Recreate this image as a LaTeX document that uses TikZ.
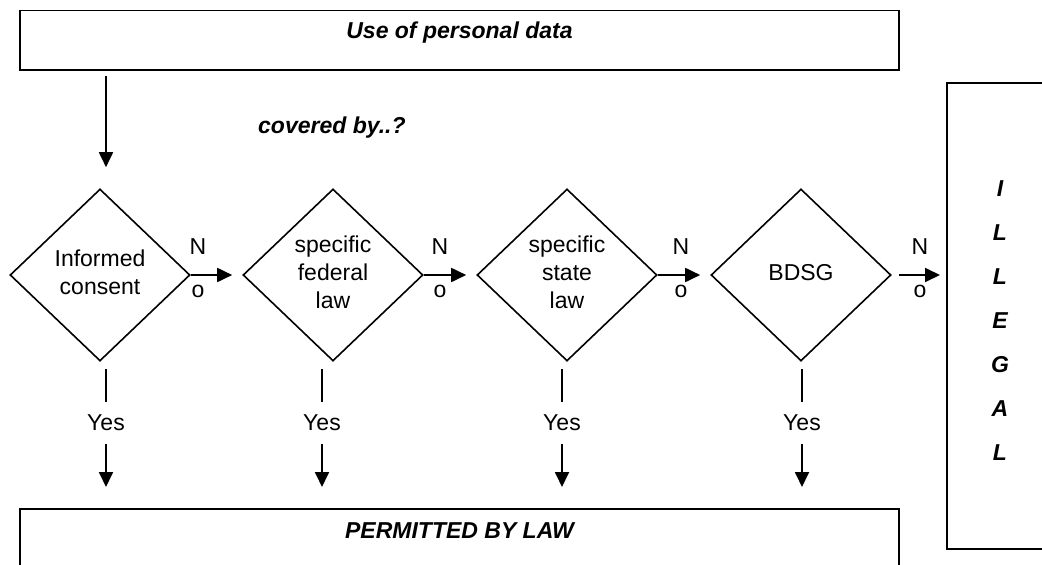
\documentclass[tikz,border=0pt]{standalone}
\usepackage{fontspec}
\setmainfont{Liberation Sans}
\usetikzlibrary{shapes.geometric,arrows.meta}

\begin{document}
\begin{tikzpicture}[x=1pt,y=-1pt,
  every node/.style={font=\fontsize{23}{28}\selectfont},
  line/.style={line width=1.8pt},
  arr/.style={line width=1.8pt,-{Triangle[length=15pt,width=14pt]}},
  frame/.style={draw,line width=1.8pt,inner sep=0pt},
  decision/.style={draw,shape=diamond,line width=1.6pt,minimum width=180pt,
    minimum height=172pt,inner sep=0pt},
  bi/.style={font=\fontsize{23}{28}\selectfont\bfseries\itshape},
  nolbl/.style={align=center,inner sep=0pt,font=\fontsize{23}{43}\selectfont},
  yeslbl/.style={inner sep=0pt,minimum height=42pt},
]
\useasboundingbox (0,0) rectangle (1042,565);

% header and footer boxes
\node[frame,bi,anchor=north,minimum width=879pt,text height=28.5pt,text depth=31pt]
  (use) at (459.5,9.5) {Use of personal data};
\node[frame,bi,anchor=north,minimum width=879pt,text height=30pt,text depth=70pt]
  (perm) at (459.5,508) {PERMITTED BY LAW};

\node[bi,anchor=west,inner sep=0pt] (cov) at (258,128) {covered by..?};

% decision chain
\node[decision] (d1) at (100,275) {\begin{tabular}{@{}c@{}}Informed\\consent\end{tabular}};
\node[decision] (d2) at (333,275) {\begin{tabular}{@{}c@{}}specific\\federal\\law\end{tabular}};
\node[decision] (d3) at (567,275) {\begin{tabular}{@{}c@{}}specific\\state\\law\end{tabular}};
\node[decision] (d4) at (801,275) {\begin{tabular}{@{}c@{}}BDSG\end{tabular}};

% outcome on the right
\node[frame,anchor=north west,minimum width=120pt,minimum height=466pt] (ill) at (946,82) {};
\node[inner sep=0pt,align=center,font=\fontsize{23}{44}\selectfont\bfseries\itshape]
  (illtxt) at (1000,321) {I\\L\\L\\E\\G\\A\\L};

% "No" branches
\node[nolbl] (n1) at (198,268.5) {N\\o};
\node[nolbl] (n2) at (440,268.5) {N\\o};
\node[nolbl] (n3) at (681,268.5) {N\\o};
\node[nolbl] (n4) at (920,268.5) {N\\o};

\draw[arr,shorten >=10pt] (d1.east) -- (d2.west);
\draw[arr,shorten >=10pt] (d2.east) -- (d3.west);
\draw[arr,shorten >=10pt] (d3.east) -- (d4.west);
\draw[arr,shorten <=7pt,shorten >=6pt] (d4.east) -- (d4.east -| ill.west);

% "Yes" branches
\node[yeslbl] (y1) at (106,423) {Yes};
\node[yeslbl] (y2) at (322,423) {Yes};
\node[yeslbl] (y3) at (562,423) {Yes};
\node[yeslbl] (y4) at (802,423) {Yes};

\foreach \y in {y1,y2,y3,y4}{
  \draw[line] (\y.north) -- ++(0,-33);
  \draw[arr,shorten >=21pt] (\y.south) -- (\y.south |- perm.north);
}

% entry arrow
\draw[arr,shorten <=5pt,shorten >=21pt] (use.south -| y1) -- (d1.north -| y1);
\end{tikzpicture}
\end{document}
